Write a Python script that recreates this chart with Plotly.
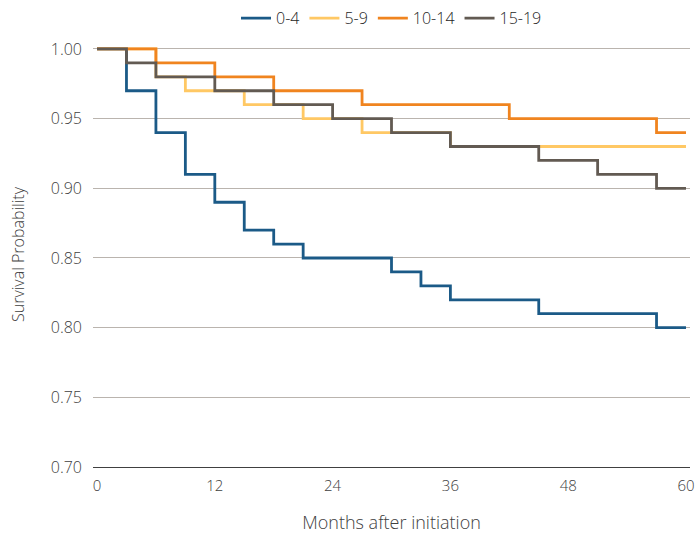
import plotly.graph_objects as go

# Kaplan-Meier style step data (months, survival probability)
t_04 = [0, 3, 6, 9, 12, 15, 18, 21, 30, 33, 36, 45, 57, 60]
s_04 = [1.00, 0.97, 0.94, 0.91, 0.89, 0.87, 0.86, 0.85, 0.84, 0.83, 0.82, 0.81, 0.80, 0.80]

t_59 = [0, 6, 9, 15, 21, 27, 36, 60]
s_59 = [1.00, 0.98, 0.97, 0.96, 0.95, 0.94, 0.93, 0.93]

t_1014 = [0, 6, 12, 18, 27, 42, 57, 60]
s_1014 = [1.00, 0.99, 0.98, 0.97, 0.96, 0.95, 0.94, 0.94]

t_1519 = [0, 3, 6, 12, 18, 24, 30, 36, 45, 51, 57, 60]
s_1519 = [1.00, 0.99, 0.98, 0.97, 0.96, 0.95, 0.94, 0.93, 0.92, 0.91, 0.90, 0.90]

series = [
    ("0-4", t_04, s_04, "#1b5a87"),
    ("5-9", t_59, s_59, "#ffc864"),
    ("10-14", t_1014, s_1014, "#f0841f"),
    ("15-19", t_1519, s_1519, "#625a52"),
]

x_ticks = [0, 12, 24, 36, 48, 60]
y_ticks = [0.70, 0.75, 0.80, 0.85, 0.90, 0.95, 1.00]

fig = go.Figure()
for name, t, s, c in series:
    fig.add_trace(go.Scatter(x=t, y=s, mode="lines", name=name,
                             line=dict(color=c, width=2.8, shape="hv")))

font_family = "Open Sans, Noto Sans, sans-serif"
fig.update_layout(
    width=697, height=534,
    margin=dict(l=93, r=7, t=42, b=67, autoexpand=False),
    plot_bgcolor="white", paper_bgcolor="white",
    font=dict(family=font_family, color="#404040", size=15, weight=300),
    showlegend=True,
    legend=dict(orientation="h", x=0.50, xanchor="center", y=1.056, yanchor="middle",
                font=dict(size=16, color="#262626", weight=300), itemwidth=30,
                tracegroupgap=0, traceorder="normal"),
    xaxis=dict(range=[-0.41, 60.41], tickvals=x_ticks, ticktext=[str(v) for v in x_ticks],
               showgrid=False, zeroline=False, showline=True, linecolor="#404040",
               linewidth=1, ticks="", automargin=False,
               tickfont=dict(size=15, color="#404040", weight=300), ticklabelstandoff=5,
               title=dict(text="Months after initiation",
                          font=dict(size=18, color="#404040", weight=300), standoff=26)),
    yaxis=dict(range=[0.70, 1.005], tickvals=y_ticks, ticktext=[f"{v:.2f}" for v in y_ticks],
               showgrid=True, gridcolor="#bab4ae", gridwidth=1, zeroline=False,
               ticks="", automargin=False,
               tickfont=dict(size=16, color="#404040", weight=300), ticklabelstandoff=10,
               title=dict(text="Survival Probability",
                          font=dict(size=16, color="#404040", weight=300), standoff=22)),
)

fig.write_html("out.html", config={"displayModeBar": False},
               post_script="document.body.style.margin='0';")
